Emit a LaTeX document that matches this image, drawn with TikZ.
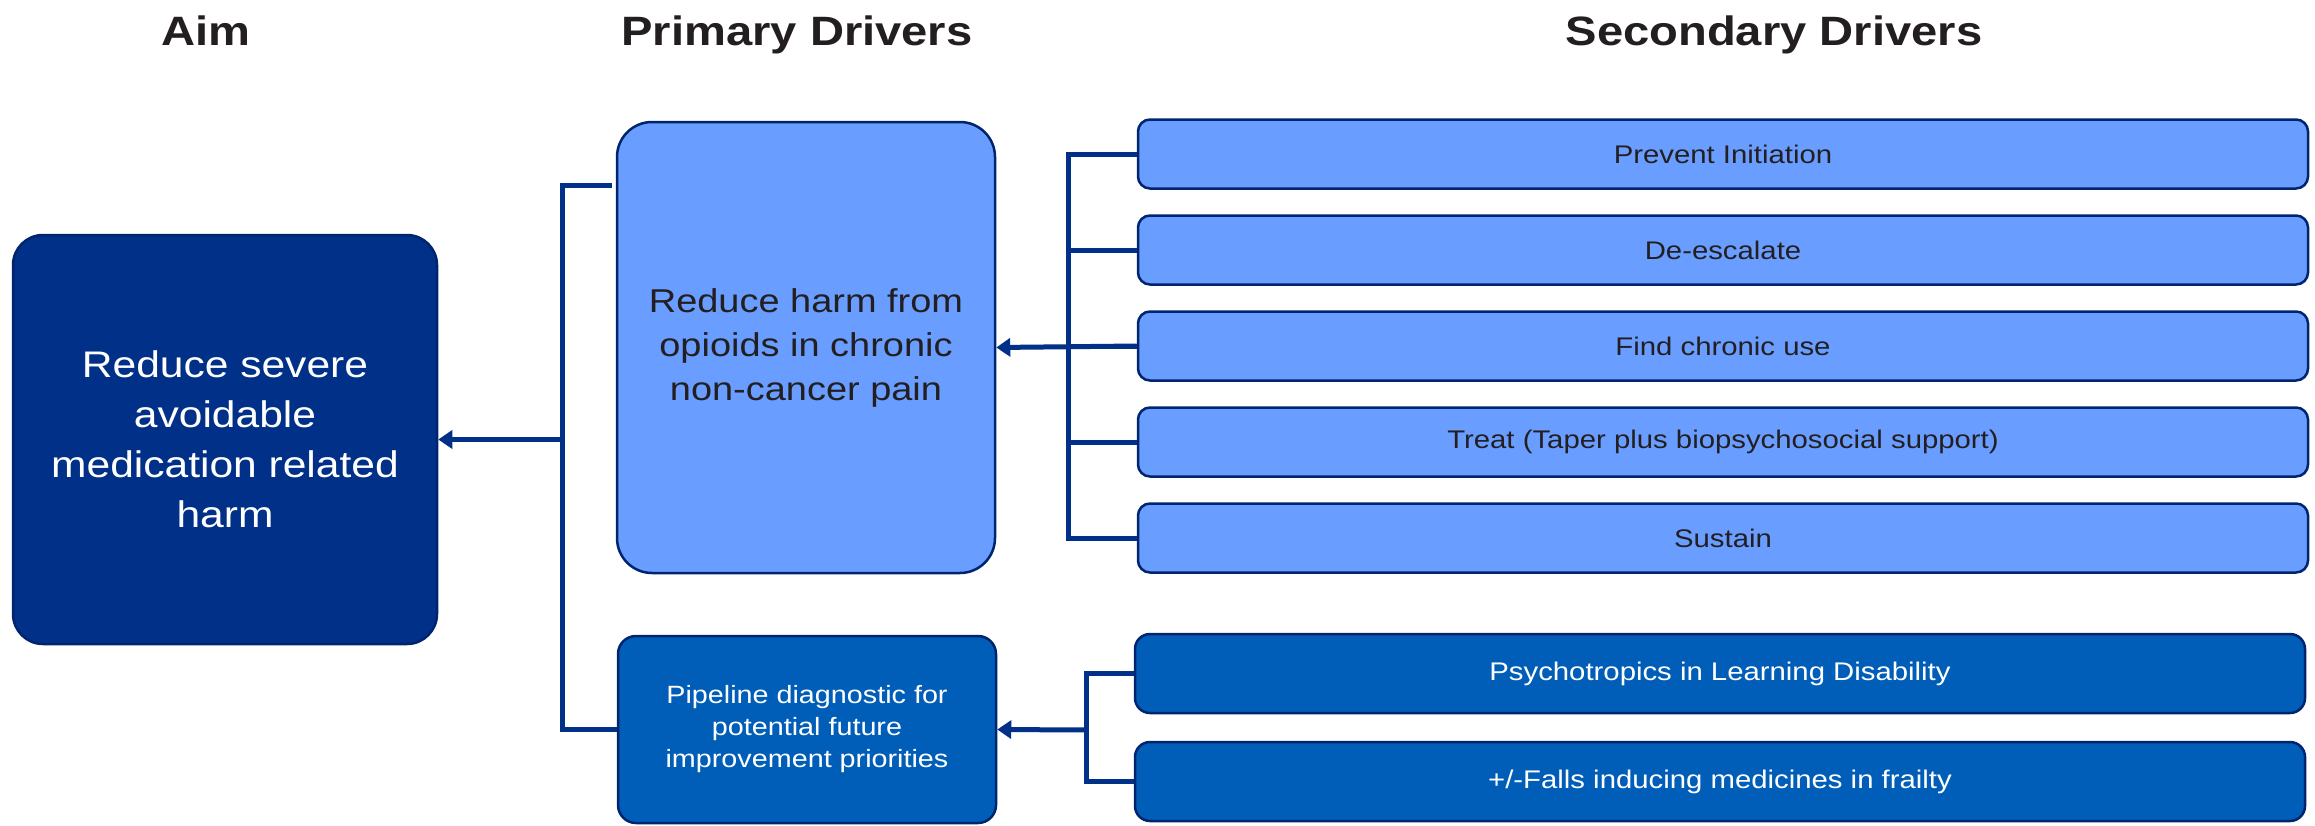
\documentclass[tikz,border=0pt]{standalone}
\usepackage{fontspec}
\setmainfont{Liberation Sans}[FakeStretch=1.15]
\usepackage{tikz}
\usetikzlibrary{arrows.meta, calc, positioning}
\definecolor{navy}{RGB}{0,48,135}
\definecolor{boxedge}{RGB}{0,36,110}
\definecolor{lightblue}{RGB}{105,157,255}
\definecolor{midblue}{RGB}{0,94,184}
\definecolor{ink}{RGB}{35,31,32}

\begin{document}
\begin{tikzpicture}[x=1pt, y=-1pt]
	\tikzstyle{title}=[font=\fontsize{41}{49}\selectfont\bfseries, text=ink, anchor=base]
	\tikzstyle{box}=[rectangle, draw=boxedge, line width=2.5pt, align=center, inner sep=0pt]
	\tikzstyle{aimbox}=[box, fill=navy, text=white, rounded corners=30pt, minimum width=424pt, minimum height=409pt, font=\fontsize{37}{50}\selectfont]
	\tikzstyle{pribox}=[box, fill=lightblue, text=ink, rounded corners=35pt, minimum width=378pt, minimum height=451pt, font=\fontsize{33}{44}\selectfont]
	\tikzstyle{pipebox}=[box, fill=midblue, text=white, rounded corners=18pt, minimum width=378pt, minimum height=187pt, font=\fontsize{25}{32}\selectfont]
	\tikzstyle{secbox}=[box, fill=lightblue, text=ink, rounded corners=12pt, minimum width=1170pt, minimum height=69pt, font=\fontsize{25.5}{30}\selectfont]
	\tikzstyle{lowbox}=[box, fill=midblue, text=white, rounded corners=15pt, minimum width=1170pt, minimum height=79pt, font=\fontsize{25.5}{30}\selectfont]
	\tikzstyle{link}=[draw=navy, line width=5pt]
	\tikzstyle{feed}=[link, -{Triangle[length=14pt, width=18pt]}]

	\useasboundingbox (0,0) rectangle (2315,825);

	% Headings
	\node at (206, 45) [title] (aim_title) {Aim};
	\node at (797, 45) [title] (pri_title) {Primary Drivers};
	\node at (1774, 45) [title] (sec_title) {Secondary Drivers};

	% Aim
	\node at (225, 439.5) [aimbox] (aim) {Reduce severe\\avoidable\\medication related\\harm};

	% Primary drivers
	\node at (806, 347.5) [pribox] (pri) {Reduce harm from\\opioids in chronic\\non-cancer pain};
	\node at (807, 729.5) [pipebox] (pipe) {Pipeline diagnostic for\\potential future\\improvement priorities};

	% Secondary drivers
	\foreach \txt [count=\i] in {Prevent Initiation, De-escalate, Find chronic use, Treat (Taper plus biopsychosocial support), Sustain}
		\node at (1723, 58+96*\i) [secbox] (sec_\i) {\txt};
	\node at (1720, 673.5) [lowbox] (low_1) {Psychotropics in Learning Disability};
	\node at (1720, 781.5) [lowbox] (low_2) {+/-Falls inducing medicines in frailty};

	% Primary -> Aim
	\coordinate (aim_join) at (562, 439.5);
	\draw [link] ([xshift=-4pt, yshift=162pt]pri.west) -| (aim_join) |- (pipe.west);
	\draw [feed] (aim_join) -- (aim.east);

	% Secondary -> Primary
	\coordinate (pri_join) at (1068, 347);
	\foreach \i in {1,...,5}
		\draw [link] (sec_\i.west) -| (pri_join);
	\draw [feed] (sec_3.west) -- (pri.east);

	% Secondary -> Pipeline
	\coordinate (pipe_join) at (1086, 730);
	\draw [link] (low_1.west) -| (pipe_join) |- (low_2.west);
	\draw [feed] (pipe_join) -- (pipe.east);
\end{tikzpicture}
\end{document}
